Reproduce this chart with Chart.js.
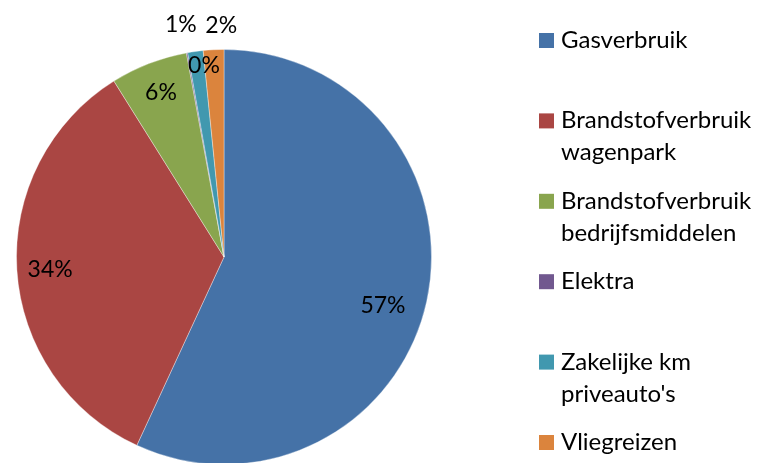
<!DOCTYPE html>
<html>
<head>
<meta charset="utf-8">
<script src="https://cdn.jsdelivr.net/npm/chart.js@4.4.0/dist/chart.umd.min.js"></script>
<style>
html, body { margin: 0; padding: 0; overflow: hidden; background: #fff; }
#wrap { position: relative; width: 762px; height: 465px; }
</style>
</head>
<body>
<div id="wrap"><canvas id="myChart"></canvas></div>
<script>
let categories = ["Gasverbruik", "Brandstofverbruik wagenpark", "Brandstofverbruik bedrijfsmiddelen", "Elektra", "Zakelijke km priveauto's", "Vliegreizen"];
let shares = [56.9, 34.2, 6.0, 0.1, 1.2, 1.6];
let colors = ['#4572A7', '#AA4643', '#89A54E', '#71588F', '#4198AF', '#DB843D'];

// where each % label sits: fraction of radius, and a small angle nudge in degrees
let labelRadius = [0.80, 0.84, 0.85, 0.93, 1.14, 1.12];
let labelShift = [4.3, -0.4, 0.3, 4.3, -2.6, 2.2];

let LABEL_FONT = '23px Lato';
let LEGEND_FONT = '24px Lato';

let ctx = document.getElementById('myChart');

function wrapText(c, text, maxWidth) {
    let words = text.split(' ');
    let lines = [];
    let line = '';
    for (let w of words) {
        let test = line ? line + ' ' + w : w;
        if (line && c.measureText(test).width > maxWidth) {
            lines.push(line);
            line = w;
        } else {
            line = test;
        }
    }
    lines.push(line);
    return lines;
}

const pieText = {
    id: 'pieText',
    afterDraw(chart) {
        const c = chart.ctx;
        const arcs = chart.getDatasetMeta(0).data;
        const total = shares.reduce((a, b) => a + b, 0);
        c.save();
        c.font = LABEL_FONT;
        c.fillStyle = '#000';
        c.textAlign = 'center';
        c.textBaseline = 'alphabetic';
        arcs.forEach((arc, i) => {
            let mid = (arc.startAngle + arc.endAngle) / 2 + labelShift[i] * Math.PI / 180;
            let r = arc.outerRadius * labelRadius[i];
            let x = arc.x + r * Math.cos(mid);
            let y = arc.y + r * Math.sin(mid);
            c.fillText(Math.round(shares[i] / total * 100) + '%', x, y + 8);
        });

        // legend on the right
        c.font = LEGEND_FONT;
        c.textAlign = 'left';
        categories.forEach((name, i) => {
            let top = 33 + i * 80.4;
            c.fillStyle = colors[i];
            c.fillRect(539, top, 15, 15);
            c.fillStyle = '#000';
            wrapText(c, name, 200).forEach((line, j) => {
                c.fillText(line, 561, top + 15 + j * 32);
            });
        });
        c.restore();
    }
};

makeChart();

function makeChart() {
    const myChart = new Chart(ctx, {
        type: 'pie',
        data: {
            labels: categories,
            datasets: [{
                data: shares,
                backgroundColor: colors,
                borderColor: 'rgba(255,255,255,0.35)',
                borderWidth: 1,
                clip: false
            }]
        },
        options: {
            responsive: true,
            maintainAspectRatio: false,
            animation: false,
            layout: {
                padding: { top: 49, left: 16, right: 330, bottom: 0 }
            },
            plugins: {
                legend: { display: false },
                tooltip: { enabled: false }
            }
        },
        plugins: [pieText]
    });
}
</script>
</body>
</html>
